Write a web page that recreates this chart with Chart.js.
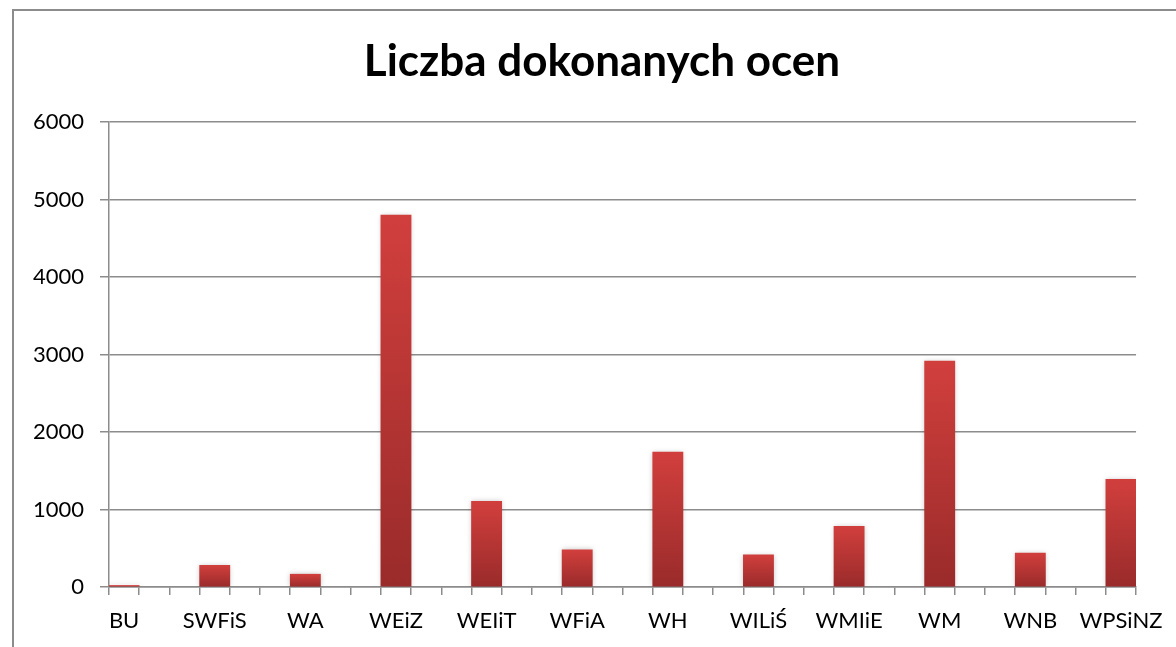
<!DOCTYPE html>
<html>
<head>
<meta charset="utf-8">
<script src="https://cdn.jsdelivr.net/npm/chart.js@4/dist/chart.umd.min.js"></script>
<style>
  html, body { margin: 0; padding: 0; background: #ffffff; overflow: hidden; }
  #wrap { position: relative; width: 1176px; height: 647px; }
  #frame { position: absolute; left: 12px; top: 9px; width: 1300px; height: 800px; border: 2px solid #8c8c8c; box-sizing: border-box; }
  canvas { position: absolute; left: 0; top: 0; }
</style>
</head>
<body>
<div id="wrap">
  <div id="frame"></div>
  <canvas id="c" width="1176" height="647"></canvas>
</div>
<script>
const title = 'Liczba dokonanych ocen';
const categories = ['BU', 'SWFiS', 'WA', 'WEiZ', 'WEIiT', 'WFiA', 'WH', 'WILiŚ', 'WMIiE', 'WM', 'WNB', 'WPSiNZ'];
const values = [20, 280, 165, 4800, 1105, 480, 1740, 415, 783, 2915, 438, 1390];
const yTicks = [0, 1000, 2000, 3000, 4000, 5000, 6000];

// Excel axis has three slots per category (bar fills the first slot)
const SLOTS_PER_CAT = 3;
const totalSlots = (categories.length - 1) * SLOTS_PER_CAT + 1;
const slotLabels = [];
const slotValues = [];
for (let i = 0; i < totalSlots; i++) {
  if (i % SLOTS_PER_CAT === 0) {
    slotLabels.push(categories[i / SLOTS_PER_CAT]);
    slotValues.push(values[i / SLOTS_PER_CAT]);
  } else {
    slotLabels.push('');
    slotValues.push(null);
  }
}

const FONT = "Lato, 'Open Sans', 'DejaVu Sans', sans-serif";
const GRAY = '#8c8c8c';

function barGradient(ctx) {
  const chart = ctx.chart;
  if (!chart.chartArea || ctx.parsed == null || ctx.parsed.y == null) return '#b83434';
  const y = chart.scales.y;
  const top = y.getPixelForValue(ctx.parsed.y);
  const base = y.getPixelForValue(0);
  const g = chart.ctx.createLinearGradient(0, top, 0, Math.max(base, top + 1));
  g.addColorStop(0, '#d13f3d');
  g.addColorStop(1, '#992b2a');
  return g;
}

const shadowPlugin = {
  id: 'barShadow',
  beforeDatasetsDraw(chart) {
    const c = chart.ctx;
    c.save();
    c.shadowColor = 'rgba(0,0,0,0.22)';
    c.shadowBlur = 5;
    c.shadowOffsetX = 0;
    c.shadowOffsetY = 0;
  },
  afterDatasetsDraw(chart) {
    chart.ctx.restore();
  }
};

// Title centred on the whole chart frame (Excel style)
const titlePlugin = {
  id: 'frameTitle',
  afterDraw(chart) {
    const c = chart.ctx;
    c.save();
    c.font = "bold 44px " + FONT;
    c.fillStyle = '#000000';
    c.textAlign = 'center';
    c.textBaseline = 'alphabetic';
    c.fillText(title, 602, 76);
    c.restore();
  }
};

new Chart(document.getElementById('c'), {
  type: 'bar',
  data: {
    labels: slotLabels,
    datasets: [{
      data: slotValues,
      backgroundColor: barGradient,
      borderWidth: 0,
      barPercentage: 1.0,
      categoryPercentage: 1.0
    }]
  },
  plugins: [shadowPlugin, titlePlugin],
  options: {
    responsive: false,
    animation: false,
    layout: { padding: { left: 0, right: 38, top: 122, bottom: 0 } },
    plugins: {
      legend: { display: false },
      tooltip: { enabled: false },
      title: { display: false }
    },
    scales: {
      x: {
        offset: true,
        grid: {
          display: true,
          offset: true,
          drawOnChartArea: false,
          drawTicks: true,
          tickLength: 8,
          color: GRAY,
          lineWidth: 1.5
        },
        border: { display: true, color: GRAY, width: 1.5 },
        ticks: {
          autoSkip: false,
          maxRotation: 0,
          minRotation: 0,
          color: '#000000',
          padding: 13,
          font: { family: FONT, size: 22 }
        },
        afterFit(scale) { scale.height = 60; }
      },
      y: {
        min: 0,
        max: 6000,
        afterBuildTicks(scale) { scale.ticks = yTicks.map(v => ({ value: v })); },
        grid: {
          color: GRAY,
          lineWidth: 1.5,
          drawTicks: true,
          tickLength: 9
        },
        border: { display: true, color: GRAY, width: 1.5 },
        ticks: {
          color: '#000000',
          padding: 16,
          font: { family: FONT, size: 22 },
          callback: (v) => String(v)
        },
        afterFit(scale) { scale.width = 109; }
      }
    }
  }
});
</script>
</body>
</html>
